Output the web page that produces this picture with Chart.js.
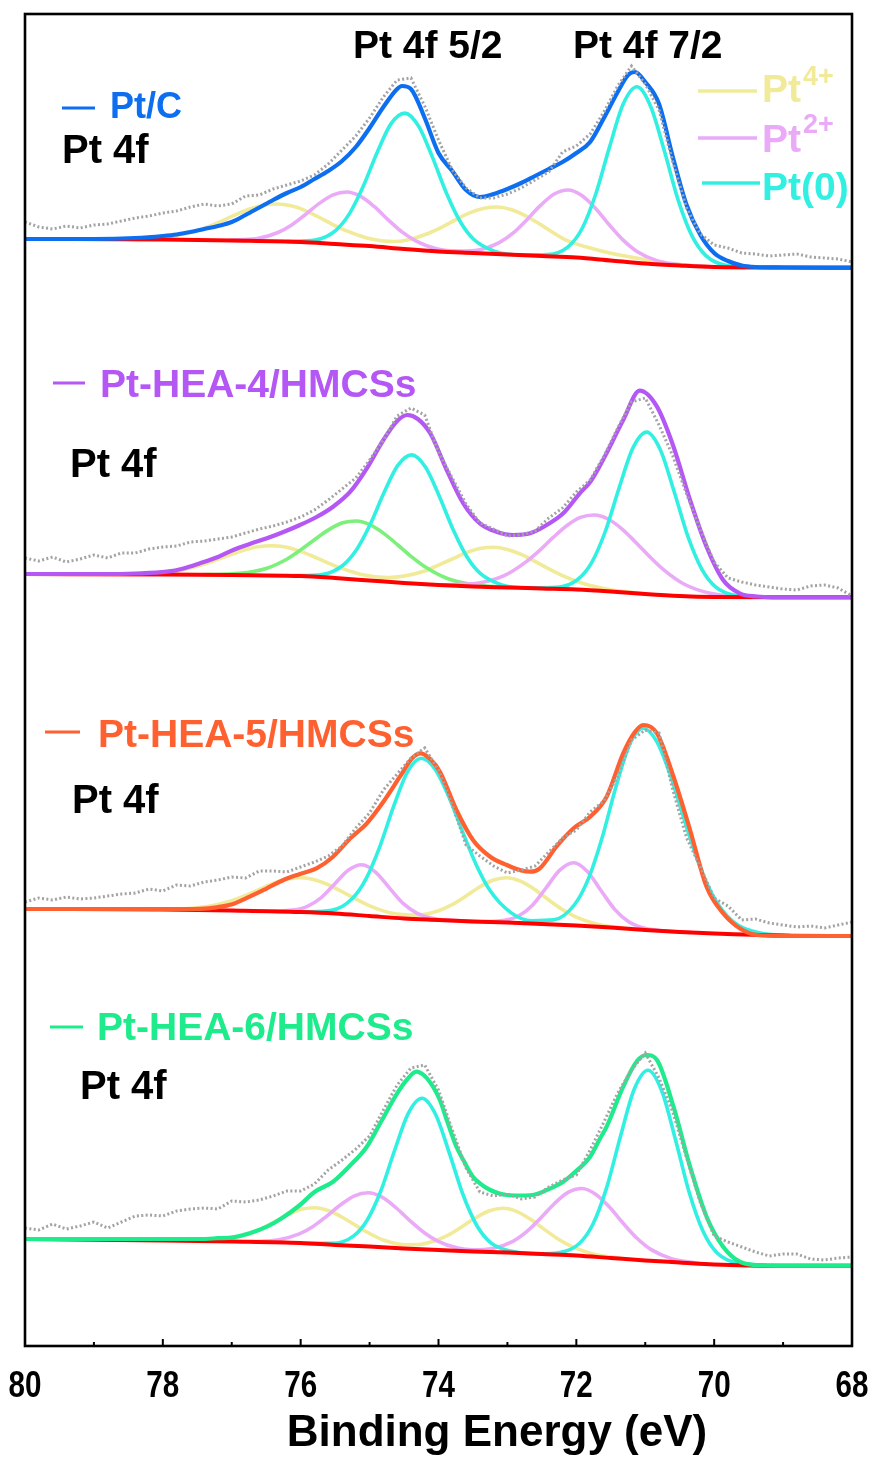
<!DOCTYPE html>
<html><head><meta charset="utf-8">
<script src="https://cdn.jsdelivr.net/npm/chart.js@4.4.1/dist/chart.umd.min.js"></script>
<style>html,body{margin:0;padding:0;background:#fff;}#wrap{width:880px;height:1457px;}</style>
</head><body><div id="wrap"><canvas id="c" width="880" height="1457"></canvas></div>
<script>
// ---------- DATA (binding energy in eV, intensity in arbitrary units relative to each spectrum's left background) ----------
const tickLabels = [80, 78, 76, 74, 72, 70, 68];
const axisTitle = 'Binding Energy (eV)';
const rawEnergy = Array.from({length: 61}, (_, i) => +(80 - i * 0.2).toFixed(1)); // raw spectra sampled every 0.2 eV

// Pt/C
const ptcRaw = [17,12,10,13,11,14,15,18,21,23,26,28,32,35,33,35,43,44,50,54,58,64,75,89,103,121,142,159,161,133,99,69,51,41,41,45,51,59,67,87,93,105,127,153,173,155,129,77,31,5,-6,-9,-14,-15,-17,-16,-15,-18,-19,-20,-23];
const ptcEnvelope = [[80,0],[79,0],[78.4,1],[78,3],[77.8,4.5],[77.6,7],[77.4,10],[77.2,13],[77,17],[76.8,24],[76.6,31.5],[76.4,39],[76.2,46],[76,52],[75.8,60],[75.6,68],[75.4,78],[75.2,92],[75,111],[74.8,132],[74.6,150],[74.53,153],[74.4,150],[74.2,121],[74,86],[73.8,68],[73.6,49],[73.4,42],[73.2,45],[73,50],[72.8,56],[72.6,63],[72.4,70],[72.2,77],[72,86],[71.8,97],[71.6,121],[71.4,147],[71.25,164],[71.15,167],[71,157],[70.8,135],[70.6,82],[70.4,34],[70.2,4],[70,-14],[69.8,-22],[69.6,-26.5],[69.4,-28],[69,-28.5],[68,-28.7]];
const ptcBackground = [[80,0],[78,-0.5],[77,-1.5],[76,-3],[75.5,-5],[75,-7],[74.5,-10],[74,-12.5],[73.5,-14],[73,-15.5],[72.5,-17],[72,-18.5],[71.5,-21.5],[71,-24.5],[70.5,-26.5],[70,-28],[69,-28.5],[68,-28.7]];
const ptcPt0 = [[76.19,-2.4],[75.79,-1.0],[75.49,8.7],[75.29,25.6],[75.09,53.0],[74.89,86.5],[74.69,115.1],[74.49,125.9],[74.29,113.0],[74.09,82.1],[73.89,46.8],[73.69,18.0],[73.49,-0.3],[73.19,-12.1],[72.8,-16.0],[72.42,-15.6],[72.12,-7.8],[71.92,10.0],[71.72,44.5],[71.52,91.6],[71.32,134.9],[71.12,152.2],[70.92,132.2],[70.72,87.4],[70.52,38.4],[70.32,2.9],[70.12,-16.6],[69.82,-26.5],[69.42,-28.3]];
const ptcPt2 = [[77.03,-1.2],[76.63,0.4],[76.33,6.5],[76.13,14.1],[75.93,24.5],[75.73,35.6],[75.53,44.2],[75.33,47.0],[75.13,42.6],[74.93,32.3],[74.73,19.2],[74.53,7.1],[74.33,-1.8],[74.03,-9.8],[73.7,-12.1],[73.42,-11.0],[73.12,-3.7],[72.92,5.8],[72.72,19.1],[72.52,33.6],[72.32,45.0],[72.12,49.0],[71.92,43.5],[71.72,30.6],[71.52,14.0],[71.32,-1.1],[71.12,-12.4],[70.82,-21.9],[70.42,-26.3],[70.0,-28]];
const ptcPt4 = [[78.54,-0.1],[78.04,1.5],[77.64,5.8],[77.34,12.3],[77.14,18.1],[76.94,24.4],[76.74,30.0],[76.54,33.8],[76.34,35.0],[76.14,33.2],[75.94,28.7],[75.74,22.0],[75.54,14.7],[75.34,8.3],[75.04,1.1],[74.64,-2.5],[74.45,-0.9],[74.15,5.5],[73.95,11.8],[73.75,19.3],[73.55,26.1],[73.35,30.6],[73.15,32.0],[72.95,29.5],[72.75,23.7],[72.55,15.7],[72.35,7.0],[72.15,-1.1],[71.85,-8],[71.45,-15],[70.95,-21],[70.5,-25.5],[70,-28]];

// Pt-HEA-4/HMCSs
const hea4Raw = [16,13,17,12,15,19,16,21,21,25,27,28,32,33,35,37,41,45,48,52,57,64,74,85,96,114,134,158,166,159,122,96,70,51,45,38,39,43,56,66,82,94,118,146,172,176,149,118,80,44,12,-4,-8,-11,-13,-15,-16,-12,-11,-14,-22];
const hea4Envelope = [[80,0],[78.9,0],[78.4,0.5],[77.94,2.3],[77.7,5.5],[77.46,10.7],[77.2,17],[76.98,24],[76.74,30],[76.49,35.7],[76.25,42],[76.01,49],[75.77,57],[75.53,67.3],[75.28,82.3],[75.04,105.7],[74.8,134],[74.6,153],[74.45,159],[74.3,155],[74.12,140.7],[73.88,104],[73.64,70.7],[73.4,50.7],[73.16,42.3],[72.91,39],[72.67,40.7],[72.43,49],[72.19,60.7],[71.95,80.7],[71.8,92],[71.66,108],[71.56,121],[71.32,154],[71.08,183.3],[70.83,167.3],[70.59,127.3],[70.35,74],[70.11,27.3],[69.87,-6],[69.63,-19.3],[69.38,-22.5],[69.15,-23.3],[68,-23.3]];
const hea4Background = [[80,0],[78,-0.5],[77,-1],[76,-2],[75.5,-4],[75,-6.5],[74.5,-9],[74,-11],[73.5,-12.5],[73,-13.5],[72.5,-14.5],[72,-15.5],[71.5,-17.5],[71,-20],[70.5,-22],[70,-23],[69,-23.3],[68,-23.3]];
const hea4Pt0 = [[76.09,-1.6],[75.69,-0.5],[75.39,8.5],[75.19,24.2],[74.99,49.7],[74.79,81.5],[74.59,108.6],[74.39,119.1],[74.19,107.0],[73.99,78.1],[73.79,44.7],[73.59,17.5],[73.39,0.3],[73.09,-10.6],[72.69,-13.9],[72.28,-13.4],[71.98,-5.5],[71.78,11.1],[71.58,42.5],[71.38,85.9],[71.18,125.9],[70.98,141.9],[70.78,124.1],[70.58,82.3],[70.38,37.4],[70.18,4.9],[69.98,-12.9],[69.68,-21.6],[69.28,-23.2]];
const hea4Pt2a = [[77.39,-0.65],[76.89,0.6],[76.49,5.8],[76.19,15.3],[75.99,24.6],[75.79,34.8],[75.59,44.4],[75.39,51.2],[75.19,53.0],[74.99,49.1],[74.79,40.4],[74.59,29.0],[74.39,17.2],[74.19,6.9],[73.89,-4.0],[73.49,-10.8],[72.99,-13.4]];
const hea4Pt2b = [[73.94,-10.8],[73.44,-9.3],[73.04,-1.4],[72.74,11.6],[72.54,23.2],[72.34,36.3],[72.14,48.3],[71.94,56.6],[71.74,59.0],[71.54,55.0],[71.34,45.2],[71.14,31.8],[70.94,17.6],[70.74,4.6],[70.44,-10.0],[70.04,-19.6],[69.54,-22.8]];
const hea4Pt4 = [[78.62,-0.2],[78.12,0.8],[77.72,4.1],[77.42,9.4],[77.22,14.1],[77.02,19.3],[76.82,24.0],[76.62,27.3],[76.42,28.3],[76.22,26.9],[76.02,23.1],[75.82,17.6],[75.62,11.5],[75.42,6.0],[75.12,-0.4],[74.72,-3.5],[74.5,-2.0],[74.2,3.0],[74.0,8.9],[73.8,15.0],[73.6,21.2],[73.4,25.4],[73.2,26.7],[73.0,24.6],[72.8,19.6],[72.6,12.6],[72.4,5.2],[72.2,-1.6],[71.9,-9.5],[71.5,-15.8],[71.0,-19.8]];

// Pt-HEA-5/HMCSs
const hea5Raw = [7,11,9,12,10,11,13,15,16,20,18,24,23,27,29,32,31,38,38,37,42,47,53,63,81,96,119,135,151,161,139,104,64,53,43,36,39,43,57,71,79,97,108,133,169,179,176,119,71,42,11,3,-11,-10,-14,-16,-18,-17,-19,-16,-13];
const hea5Envelope = [[80,0],[77.7,0],[77.46,0.2],[77.22,1.7],[76.98,5],[76.74,12.3],[76.49,20.7],[76.25,29],[76.01,35],[75.77,40.7],[75.53,52.3],[75.28,70.7],[75.04,85.7],[74.8,107.3],[74.56,132.3],[74.38,151],[74.26,155.7],[74.12,150],[73.98,137.3],[73.74,99],[73.5,69],[73.25,52.3],[73.01,44],[72.8,38.5],[72.67,37.3],[72.53,40.7],[72.29,62.3],[72.04,80.7],[71.8,92.3],[71.56,112.3],[71.32,155.7],[71.15,177],[71.03,184],[70.83,175.7],[70.59,132.3],[70.35,79],[70.11,22.3],[69.87,-4.3],[69.63,-19.3],[69.38,-26],[69,-27],[68,-27]];
const hea5Background = [[80,0],[78,-0.5],[77,-1.5],[76,-3],[75.5,-4.5],[75,-7],[74.5,-9.5],[74,-11],[73.5,-12.5],[73,-13.5],[72.5,-15],[72,-16.5],[71.5,-18.5],[71,-21],[70.5,-23],[70,-24.5],[69,-26.5],[68,-27]];
const hea5Pt0 = [[75.95,-2.9],[75.55,-1.3],[75.25,10.5],[75.05,30.4],[74.85,62.7],[74.65,102.8],[74.45,137.2],[74.25,150.8],[74.05,139.8],[73.85,112.2],[73.65,77.1],[73.45,43.8],[73.25,18.2],[72.95,-3.6],[72.65,-11.7],[72.33,-10.9],[72.03,4.0],[71.83,29.4],[71.63,70.3],[71.43,120.9],[71.23,164.1],[71.03,180.8],[70.83,167.1],[70.63,132.6],[70.43,88.5],[70.23,46.8],[70.03,14.7],[69.73,-12.4],[69.33,-24.0],[68.9,-26.6]];
const hea5Pt2 = [[76.41,-2.2],[76.11,-1.1],[75.91,2.4],[75.71,10.9],[75.51,24.8],[75.31,38.7],[75.11,44.2],[74.91,36.7],[74.71,20.9],[74.51,5.3],[74.31,-4.3],[74.11,-9.0],[73.81,-11.4],[73.4,-12.7],[73.04,-11.4],[72.84,-7.0],[72.64,3.6],[72.44,21.0],[72.24,38.9],[72.04,46.3],[71.84,37.6],[71.64,18.3],[71.44,-0.6],[71.24,-12.8],[71.04,-18.7],[70.74,-21.8],[70.34,-23.5]];
const hea5Pt4 = [[78.19,-0.4],[77.69,0.2],[77.29,3.2],[76.99,8.5],[76.79,13.8],[76.59,19.9],[76.39,25.8],[76.19,30.0],[75.99,31.3],[75.79,29.1],[75.59,24.0],[75.39,17.0],[75.19,9.6],[74.99,2.9],[74.69,-3.9],[74.3,-6.1],[74.01,-2.0],[73.81,4.1],[73.61,12.6],[73.41,21.8],[73.21,28.8],[73.01,31.3],[72.81,27.8],[72.61,19.8],[72.41,9.5],[72.21,-0.2],[72.01,-7.8],[71.71,-14.9],[71.31,-19.4]];

// Pt-HEA-6/HMCSs
const hea6Raw = [11,9,15,10,13,17,11,17,23,24,23,28,30,31,30,38,37,39,43,48,48,55,69,79,90,103,129,154,171,174,149,109,71,47,43,45,40,42,52,59,64,89,117,146,169,186,161,127,81,36,3,-3,-8,-13,-17,-15,-15,-20,-21,-19,-18];
const hea6Envelope = [[80,0],[77.46,0],[77.2,0.8],[76.98,1.7],[76.74,5.7],[76.49,12.3],[76.28,20.5],[76.01,34],[75.8,47],[75.53,57.3],[75.3,72.3],[75.04,92.3],[74.82,119],[74.6,145.7],[74.45,160],[74.32,167.3],[74.2,163],[74.08,152.3],[73.98,139],[73.88,119],[73.74,92.3],[73.64,79],[73.5,62.3],[73.4,55.7],[73.25,49],[73.01,44],[72.8,43.5],[72.6,44.5],[72.43,49],[72.19,57.3],[72.04,65.7],[71.8,82.3],[71.66,100],[71.56,112.3],[71.32,152.3],[71.12,178],[70.98,184],[70.83,179],[70.59,132.3],[70.35,72.3],[70.11,22.3],[69.87,-7.7],[69.63,-22.7],[69.38,-26],[69,-26.7],[68,-26.7]];
const hea6Background = [[80,0],[78,-1.5],[77,-2.5],[76,-4],[75.5,-6],[75,-7.5],[74.5,-9.5],[74,-11],[73.5,-12.5],[73,-13.5],[72.5,-15],[72,-16.5],[71.5,-19],[71,-21.5],[70.5,-23.5],[70,-25.5],[69,-26.7],[68,-26.7]];
const hea6Pt0 = [[75.94,-4.2],[75.54,-4.4],[75.24,2.6],[75.04,18.3],[74.84,47.5],[74.64,88.0],[74.44,125.4],[74.24,140.7],[74.04,124.2],[73.84,85.4],[73.64,43.5],[73.44,13.0],[73.24,-3.8],[72.94,-12.3],[72.54,-14.9],[72.26,-13.9],[71.96,-4.8],[71.76,14.7],[71.56,51.4],[71.36,102.6],[71.16,149.8],[70.96,168.8],[70.76,148.0],[70.56,99.0],[70.36,46.0],[70.16,7.5],[69.96,-13.7],[69.66,-24.1],[69.26,-26.3]];
const hea6Pt2 = [[76.72,-2.6],[76.32,-0.8],[76.02,5.1],[75.82,12.6],[75.62,22.9],[75.42,34.2],[75.22,43.2],[75.02,46.2],[74.82,41.9],[74.62,31.5],[74.42,18.6],[74.22,7.0],[74.02,-1.8],[73.72,-9.1],[73.5,-10.8],[73.22,-9.5],[72.92,-2.3],[72.72,7.3],[72.52,20.7],[72.32,35.3],[72.12,46.6],[71.92,50.5],[71.72,44.8],[71.52,31.9],[71.32,15.7],[71.12,0.7],[70.92,-10.4],[70.62,-19.6],[70.22,-24.2]];
const hea6Pt4 = [[77.49,-1.2],[77.09,-0.1],[76.79,4.2],[76.59,9.5],[76.39,16.6],[76.19,24.1],[75.99,29.8],[75.79,31.3],[75.59,28.2],[75.39,21.5],[75.19,13.1],[74.99,5.1],[74.79,-1.3],[74.49,-5.7],[74.3,-5.6],[74.06,-1.9],[73.86,3.9],[73.66,12.3],[73.46,21.2],[73.26,28.2],[73.06,30.7],[72.86,27.4],[72.66,19.4],[72.46,9.4],[72.26,-0.2],[72.06,-7.7],[71.76,-14.9],[71.36,-19.3]];

// ---------- STYLE / LAYOUT ----------
const C = {
  blue:'#0D6EF0', purple:'#B457F5', orange:'#FF6030', green:'#1EEB8C',
  cyan:'#31F0E2', pink:'#EAAAF7', yellow:'#F1EA98', lime:'#7CF07A', red:'#FF0000', gray:'#A3A3A3'
};
const panels = [
  {name:'Pt/C', color:C.blue, offset:1107, raw:ptcRaw, env:ptcEnvelope, bg:ptcBackground,
   comps:[[ptcPt0,C.cyan,3],[ptcPt2,C.pink,4],[ptcPt4,C.yellow,5]]},
  {name:'Pt-HEA-4/HMCSs', color:C.purple, offset:772, raw:hea4Raw, env:hea4Envelope, bg:hea4Background,
   comps:[[hea4Pt0,C.cyan,3],[hea4Pt2b,C.pink,4],[hea4Pt2a,C.lime,4],[hea4Pt4,C.yellow,5]]},
  {name:'Pt-HEA-5/HMCSs', color:C.orange, offset:437, raw:hea5Raw, env:hea5Envelope, bg:hea5Background,
   comps:[[hea5Pt0,C.cyan,3],[hea5Pt2,C.pink,4],[hea5Pt4,C.yellow,5]]},
  {name:'Pt-HEA-6/HMCSs', color:C.green, offset:107, raw:hea6Raw, env:hea6Envelope, bg:hea6Background,
   comps:[[hea6Pt0,C.cyan,3],[hea6Pt2,C.pink,4],[hea6Pt4,C.yellow,5]]}
];
const pairs = (arr, off) => arr.map(p => ({x:p[0], y:p[1] + off}));
const datasets = [];
panels.forEach(p => {
  datasets.push({label:p.name+' raw', data:p.raw.map((v,i)=>({x:rawEnergy[i], y:v+p.offset})),
    borderColor:C.gray, borderWidth:3, borderDash:[2,2.4], borderCapStyle:'butt', tension:0, order:0});
  datasets.push({label:p.name+' envelope', data:pairs(p.env,p.offset), borderColor:p.color, borderWidth:4.2,
    cubicInterpolationMode:'monotone', order:1});
  datasets.push({label:p.name+' background', data:pairs(p.bg,p.offset), borderColor:C.red, borderWidth:4,
    cubicInterpolationMode:'monotone', order:2});
  p.comps.forEach(c => datasets.push({label:p.name+' comp', data:pairs(c[0],p.offset), borderColor:c[1],
    borderWidth:3.6, cubicInterpolationMode:'monotone', order:c[2]}));
});

const FONT = "'Liberation Sans', Arial, Helvetica, sans-serif";
const texts = [
  {t:'Pt 4f 5/2', x:353, y:58, c:'#000', s:39},
  {t:'Pt 4f 7/2', x:573, y:58, c:'#000', s:39},
  {t:'Pt/C', x:110, y:118, c:C.blue, s:36},
  {t:'Pt 4f', x:62, y:163, c:'#000', s:40},
  {t:'Pt-HEA-4/HMCSs', x:100, y:397, c:C.purple, s:39},
  {t:'Pt 4f', x:70, y:477, c:'#000', s:40},
  {t:'Pt-HEA-5/HMCSs', x:98, y:747, c:C.orange, s:39},
  {t:'Pt 4f', x:72, y:813, c:'#000', s:40},
  {t:'Pt-HEA-6/HMCSs', x:97, y:1040, c:C.green, s:39},
  {t:'Pt 4f', x:80, y:1099, c:'#000', s:40},
  {t:'Pt', x:762, y:102, c:C.yellow, s:39},
  {t:'4+', x:803, y:85, c:C.yellow, s:27},
  {t:'Pt', x:762, y:152, c:C.pink, s:39},
  {t:'2+', x:803, y:133, c:C.pink, s:27},
  {t:'Pt(0)', x:762, y:200, c:C.cyan, s:39}
];
const dashes = [
  {x1:62, x2:95, y:108, c:C.blue, w:3}, {x1:53, x2:85, y:383, c:C.purple, w:3},
  {x1:45, x2:80, y:732, c:C.orange, w:3}, {x1:50, x2:83, y:1027, c:C.green, w:3},
  {x1:698, x2:757, y:91, c:C.yellow, w:3.5}, {x1:698, x2:757, y:138, c:C.pink, w:3.5},
  {x1:702, x2:760, y:183, c:C.cyan, w:3.5}
];

const decor = {
  id:'decor',
  afterDraw(chart){
    const {ctx, chartArea:a, scales:{x}} = chart;
    ctx.save();
    // inward ticks (major every 2 eV, minor every 1 eV)
    ctx.strokeStyle = '#000'; ctx.lineWidth = 2;
    for (let e = 68; e <= 80; e++) {
      const px = x.getPixelForValue(e);
      const len = (e % 2 === 0) ? 7 : 4;
      ctx.beginPath(); ctx.moveTo(px, a.bottom); ctx.lineTo(px, a.bottom - len); ctx.stroke();
    }
    // frame
    ctx.lineWidth = 2.6;
    ctx.strokeRect(a.left, a.top, a.right - a.left, a.bottom - a.top);
    // tick labels (condensed bold)
    ctx.fillStyle = '#000'; ctx.textAlign = 'center'; ctx.textBaseline = 'alphabetic';
    ctx.font = 'bold 37px ' + FONT;
    tickLabels.forEach(v => {
      const px = x.getPixelForValue(v);
      ctx.save(); ctx.translate(px, a.bottom + 51); ctx.scale(0.8, 1); ctx.fillText(String(v), 0, 0); ctx.restore();
    });
    // axis title
    ctx.font = 'bold 44px ' + FONT;
    ctx.fillText(axisTitle, 497, a.bottom + 100);
    // legend dashes
    dashes.forEach(d => { ctx.strokeStyle = d.c; ctx.lineWidth = d.w; ctx.beginPath(); ctx.moveTo(d.x1, d.y); ctx.lineTo(d.x2, d.y); ctx.stroke(); });
    // texts
    ctx.textAlign = 'left';
    texts.forEach(t => { ctx.fillStyle = t.c; ctx.font = 'bold ' + t.s + 'px ' + FONT; ctx.fillText(t.t, t.x, t.y); });
    ctx.restore();
  }
};

new Chart(document.getElementById('c'), {
  type:'line',
  data:{datasets},
  options:{
    responsive:false, animation:false, devicePixelRatio:1,
    layout:{padding:{left:25, right:28, top:14, bottom:111}},
    elements:{point:{radius:0}, line:{fill:false, borderCapStyle:'round'}},
    plugins:{legend:{display:false}, tooltip:{enabled:false}},
    scales:{
      x:{type:'linear', reverse:true, min:68, max:80,
        border:{display:false}, grid:{display:false, drawTicks:false},
        ticks:{display:false, stepSize:2}},
      y:{display:false, min:0, max:1332}
    }
  },
  plugins:[decor]
});
</script></body></html>
